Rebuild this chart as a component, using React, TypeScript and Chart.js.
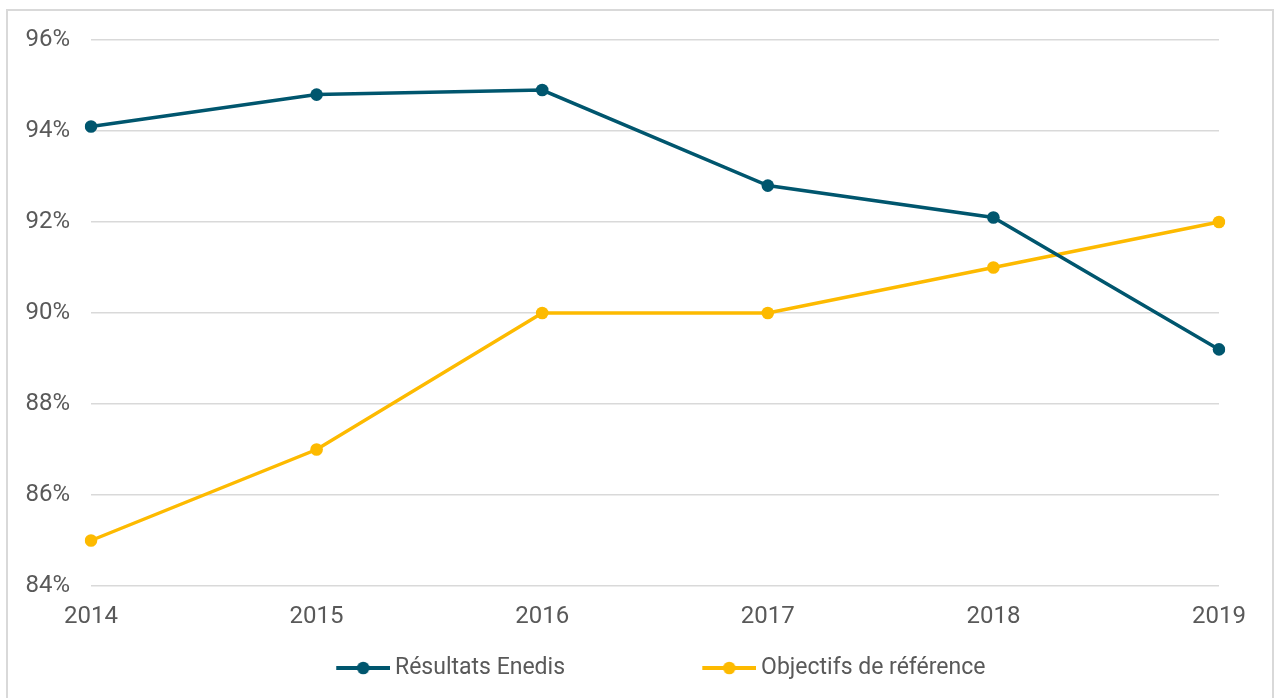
import React, { useEffect, useRef } from "react";
import { Chart, registerables } from "chart.js";

Chart.register(...registerables);

const years = ["2014", "2015", "2016", "2017", "2018", "2019"];
const resultatsEnedis = [94.1, 94.8, 94.9, 92.8, 92.1, 89.2];
const objectifsReference = [85, 87, 90, 90, 91, 92];
const seriesLabels = ["Résultats Enedis", "Objectifs de référence"];
const yMin = 84;
const yMax = 96;
const yStep = 2;

const BLUE = "#00566E";
const YELLOW = "#FDBA00";
const TEXT = "#595959";
const GRID = "#D9D9D9";
const FONT = "Roboto, 'Liberation Sans', sans-serif";

const BOX_W = 174.5;
const LEG_PAD = 10;
const MARKER_W = 54;

function makeMarker(color: string) {
  const w = Math.round(BOX_W + 13);
  const c = document.createElement("canvas");
  c.width = w;
  c.height = 16;
  const ctx = c.getContext("2d")!;
  ctx.strokeStyle = color;
  ctx.lineWidth = 4;
  ctx.beginPath();
  ctx.moveTo(w - MARKER_W, 8);
  ctx.lineTo(w, 8);
  ctx.stroke();
  ctx.fillStyle = color;
  ctx.beginPath();
  ctx.arc(w - MARKER_W / 2, 8, 6.3, 0, Math.PI * 2);
  ctx.fill();
  return c;
}

export default function App() {
  const ref = useRef<HTMLCanvasElement | null>(null);

  useEffect(() => {
    document.body.style.margin = "0";
    const canvas = ref.current;
    if (!canvas) return;
    const markers = [makeMarker(BLUE), makeMarker(YELLOW)];

    const legendPos = {
      id: "legendPos",
      afterLayout(chart: any) {
        const lg = chart.legend;
        if (!lg) return;
        lg.left = 336 - BOX_W + 47.5 - LEG_PAD;
        lg.top = 668 - LEG_PAD - 11.5;
      },
    };

    const chart = new Chart(canvas, {
      type: "line",
      data: {
        labels: years,
        datasets: [
          {
            label: seriesLabels[0],
            data: resultatsEnedis,
            borderColor: BLUE,
            backgroundColor: BLUE,
            pointBackgroundColor: BLUE,
            pointBorderWidth: 0,
            pointRadius: 6.3,
            borderWidth: 3.5,
            tension: 0,
          },
          {
            label: seriesLabels[1],
            data: objectifsReference,
            borderColor: YELLOW,
            backgroundColor: YELLOW,
            pointBackgroundColor: YELLOW,
            pointBorderWidth: 0,
            pointRadius: 6.3,
            borderWidth: 3.5,
            tension: 0,
          },
        ],
      },
      options: {
        responsive: false,
        animation: false,
        layout: { padding: { left: 0, top: 40, right: 58, bottom: 12 } },
        scales: {
          x: {
            offset: false,
            grid: { display: false, drawTicks: false },
            border: { display: false },
            ticks: {
              color: TEXT,
              font: { family: FONT, size: 24 },
              padding: 17,
              maxRotation: 0,
              autoSkip: false,
            },
            afterFit(scale: any) {
              scale.height = 57;
            },
          },
          y: {
            min: yMin,
            max: yMax,
            grid: { color: GRID, lineWidth: 1.5, drawTicks: false },
            border: { display: false },
            ticks: {
              stepSize: yStep,
              color: TEXT,
              font: { family: FONT, size: 24 },
              padding: 21,
              callback: (v: any) => `${v}%`,
            },
            afterFit(scale: any) {
              scale.width = 91;
            },
          },
        },
        plugins: {
          tooltip: { enabled: false },
          legend: {
            position: "bottom",
            align: "start",
            labels: {
              usePointStyle: true,
              pointStyleWidth: BOX_W,
              padding: LEG_PAD,
              color: TEXT,
              font: { family: FONT, size: 23 },
              generateLabels(ch: any) {
                const base = Chart.defaults.plugins.legend.labels.generateLabels(ch);
                return base.map((it: any, i: number) => ({
                  ...it,
                  pointStyle: markers[i],
                  fontColor: TEXT,
                }));
              },
            },
          },
        },
      },
      plugins: [legendPos],
    });
    return () => chart.destroy();
  }, []);

  return (
    <div style={{ position: "relative", width: 1277, height: 698, overflow: "hidden", background: "#fff" }}>
      <div
        style={{
          position: "absolute",
          left: 6,
          top: 9,
          width: 1268,
          height: 720,
          border: `2px solid ${GRID}`,
          boxSizing: "border-box",
        }}
      />
      <canvas ref={ref} width={1277} height={698} style={{ position: "absolute", left: 0, top: 0 }} />
    </div>
  );
}
